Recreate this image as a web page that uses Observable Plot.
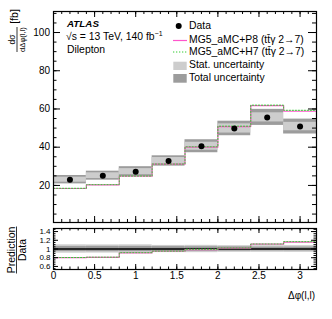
<!DOCTYPE html>
<html><head><meta charset="utf-8">
<script src="https://cdn.jsdelivr.net/npm/d3@7"></script>
<script src="https://cdn.jsdelivr.net/npm/@observablehq/plot@0.6"></script>
<style>body{margin:0;background:#fff} svg{display:block}</style>
</head><body><div id="chart"></div>
<script>
// ---- data ----
const binLow  = [0.0, 0.4, 0.8, 1.2, 1.6, 2.0, 2.4, 2.8];
const binHigh = [0.4, 0.8, 1.2, 1.6, 2.0, 2.4, 2.8, 3.2];
const dataXsec = [23.0, 25.1, 27.2, 32.8, 40.5, 49.8, 55.6, 50.8];
const statUnc  = [1.3, 1.5, 1.6, 1.8, 2.1, 2.4, 2.4, 2.2];
const totalUnc = [2.2, 2.35, 2.6, 2.7, 3.4, 3.8, 4.2, 3.9];
const predP8 = [18.4, 20.3, 24.8, 31.1, 40.0, 50.8, 61.7, 58.8];
const predH7 = [18.5, 20.4, 24.9, 31.2, 40.2, 51.0, 62.0, 59.3];
const xTickValues = [0, 0.5, 1, 1.5, 2, 2.5, 3];
const xTickLabels = ["0", "0.5", "1", "1.5", "2", "2.5", "3"];
const yTickValues = [20, 40, 60, 80, 100];
const yTickLabels = ["20", "40", "60", "80", "100"];
const rTickValues = [0.6, 0.8, 1.0, 1.2, 1.4];
const rTickLabels = ["0.6", "0.8", "1", "1.2", "1.4"];
const legendLabels = ["Data", "MG5_aMC+P8 (tt\u0304\u03b3 2\u21927)", "MG5_aMC+H7 (tt\u0304\u03b3 2\u21927)", "Stat. uncertainty", "Total uncertainty"];

const bins = binLow.map((lo, i) => ({lo, hi: binHigh[i], v: dataXsec[i], stat: statUnc[i], tot: totalUnc[i], p8: predP8[i], h7: predH7[i]}));
const steps = key => bins.flatMap(b => [{x: b.lo, y: b[key]}, {x: b.hi, y: b[key]}]);
const ratioSteps = key => bins.flatMap(b => [{x: b.lo, y: b[key] / b.v}, {x: b.hi, y: b[key] / b.v}]);

const F = "'Liberation Sans', Arial, Helvetica, sans-serif";
const DARK = "#9c9c9c", LIGHT = "#cdcdcd", MAG = "#ff55cc", GRN = "#33cc33";
const DASH = "1.3,1.7";
const W = 332, ML = 53, MR = 16, PW = W - ML - MR;
const range = (a, b, s) => d3.range(Math.round(a / s), Math.round(b / s) + 1).map(k => +(k * s).toFixed(4));

function ticks(xMaj, xMin, yMaj, yMin, ph, L) {
  const o = {stroke: "black", strokeWidth: 1};
  return [
    Plot.tickY(yMaj, {...o, y: d => d, insetRight: PW - L.yl}),
    Plot.tickY(yMin, {...o, y: d => d, insetRight: PW - L.yl / 2}),
    Plot.tickY(yMaj, {...o, y: d => d, insetLeft: PW - L.yr}),
    Plot.tickY(yMin, {...o, y: d => d, insetLeft: PW - L.yr / 2}),
    Plot.tickX(xMaj, {...o, x: d => d, insetTop: ph - L.x}),
    Plot.tickX(xMin, {...o, x: d => d, insetTop: ph - L.x / 2}),
    Plot.tickX(xMaj, {...o, x: d => d, insetBottom: ph - L.x}),
    Plot.tickX(xMin, {...o, x: d => d, insetBottom: ph - L.x / 2})
  ];
}

// ---- main panel ----
const mainH = 224, mainMT = 11, mainMB = 2;
const main = Plot.plot({
  width: W, height: mainH, marginLeft: ML, marginRight: MR, marginTop: mainMT, marginBottom: mainMB,
  style: {fontFamily: F, background: "white", color: "black"},
  x: {domain: [0, 3.2], axis: null, label: null},
  y: {domain: [0.6, 111], label: null},
  marks: [
    Plot.rect(bins, {x1: "lo", x2: "hi", y1: d => d.v - d.tot, y2: d => d.v + d.tot, fill: DARK}),
    Plot.rect(bins, {x1: "lo", x2: "hi", y1: d => d.v - d.stat, y2: d => d.v + d.stat, fill: LIGHT}),
    Plot.line(steps("p8"), {x: "x", y: "y", stroke: MAG, strokeWidth: 1.2}),
    Plot.line(steps("h7"), {x: "x", y: "y", stroke: GRN, strokeWidth: 1, strokeDasharray: DASH}),
    Plot.dot(bins, {x: d => (d.lo + d.hi) / 2, y: "v", r: 3, fill: "black", stroke: "none"}),
    ...ticks(range(0, 3, 0.5), range(0, 3.2, 0.1), yTickValues, range(5, 110, 5), mainH - mainMT - mainMB, {yl: 7, yr: 8, x: 6}),
    Plot.axisY(yTickValues, {anchor: "left", tickSize: 0, tickPadding: 3.5, fontSize: 10, fontFamily: F, tickFormat: d => yTickLabels[yTickValues.indexOf(d)], label: null}),
    Plot.frame({stroke: "black", strokeWidth: 1.2})
  ]
});

// ---- ratio panel ----
const rH = 95, rMT = 4, rMB = 50;
const ratio = Plot.plot({
  width: W, height: rH, marginLeft: ML, marginRight: MR, marginTop: rMT, marginBottom: rMB,
  style: {fontFamily: F, background: "white", color: "black"},
  x: {domain: [0, 3.2], label: null},
  y: {domain: [0.53, 1.47], label: null},
  marks: [
    Plot.rect(bins, {x1: "lo", x2: "hi", y1: d => 1 - d.tot / d.v, y2: d => 1 + d.tot / d.v, fill: LIGHT}),
    Plot.rect(bins, {x1: "lo", x2: "hi", y1: d => 1 - d.stat / d.v, y2: d => 1 + d.stat / d.v, fill: DARK}),
    Plot.ruleY([1], {stroke: "black", strokeWidth: 1.4}),
    Plot.line(ratioSteps("p8"), {x: "x", y: "y", stroke: MAG, strokeWidth: 1.2}),
    Plot.line(ratioSteps("h7"), {x: "x", y: "y", stroke: GRN, strokeWidth: 1, strokeDasharray: DASH}),
    ...ticks(range(0, 3, 0.5), range(0, 3.2, 0.1), rTickValues, range(0.55, 1.45, 0.05), rH - rMT - rMB, {yl: 5, yr: 5, x: 5}),
    Plot.axisY(rTickValues, {anchor: "left", tickSize: 0, tickPadding: 3, fontSize: 8, fontFamily: F, tickFormat: d => rTickLabels[rTickValues.indexOf(d)], label: null}),
    Plot.axisX(xTickValues, {anchor: "bottom", tickSize: 0, tickPadding: 2.5, fontSize: 10, fontFamily: F, tickFormat: d => xTickLabels[xTickValues.indexOf(d)], label: null}),
    Plot.frame({stroke: "black", strokeWidth: 1.2})
  ]
});

const root = document.getElementById("chart");
root.appendChild(main);
root.appendChild(ratio);

// ---- annotations ----
const sm = d3.select(main);
function text(sel, x, y, s, size, extra = {}) {
  const t = sel.append("text").attr("x", x).attr("y", y).attr("font-family", F).attr("font-size", size)
    .attr("fill", "black").attr("text-anchor", "start").text(s);
  for (const k in extra) t.attr(k, extra[k]);
  return t;
}
text(sm, 67, 27.3, "ATLAS", 9.8, {"font-weight": "bold", "font-style": "italic"});
const lumi = text(sm, 66, 39.5, "\u221as = 13 TeV, 140 fb", 10.4);
lumi.append("tspan").attr("dy", -4).attr("font-size", 7).text("\u22121");
text(sm, 67, 53.3, "Dilepton", 10.4);

// legend
const lx = 189;
sm.append("circle").attr("cx", 178.7).attr("cy", 26).attr("r", 3).attr("fill", "black");
text(sm, lx, 29.3, legendLabels[0], 10.4);
sm.append("line").attr("x1", 173).attr("x2", 187).attr("y1", 40.5).attr("y2", 40.5).attr("stroke", MAG).attr("stroke-width", 1.2);
text(sm, lx, 43.3, legendLabels[1], 10.4);
sm.append("line").attr("x1", 173).attr("x2", 187).attr("y1", 52).attr("y2", 52).attr("stroke", GRN).attr("stroke-width", 1).attr("stroke-dasharray", DASH);
text(sm, lx, 55.3, legendLabels[2], 10.4);
sm.append("rect").attr("x", 173.3).attr("y", 61.7).attr("width", 13.4).attr("height", 8.3).attr("fill", LIGHT);
text(sm, lx, 67.7, legendLabels[3], 10.4);
sm.append("rect").attr("x", 173.3).attr("y", 74).attr("width", 13.4).attr("height", 8.7).attr("fill", DARK);
text(sm, lx, 81, legendLabels[4], 10.4);

// main y title (rotated fraction)
const gy = sm.append("g").attr("transform", "rotate(-90)");
text(gy, -16.5, 17.5, "[fb]", 10.5, {"text-anchor": "middle"});
text(gy, -39.5, 15.2, "d\u03c3", 8.5, {"text-anchor": "middle"});
gy.append("line").attr("x1", -52).attr("x2", -27).attr("y1", 17).attr("y2", 17).attr("stroke", "black").attr("stroke-width", 0.8);
text(gy, -39.5, 24.5, "d\u0394\u03c6(l,l)", 7.6, {"text-anchor": "middle"});

// ratio annotations
const sr = d3.select(ratio);
const gr = sr.append("g").attr("transform", "rotate(-90)");
text(gr, -26, 14.6, "Prediction", 10.5, {"text-anchor": "middle"});
gr.append("line").attr("x1", -49.5).attr("x2", -2.5).attr("y1", 16.5).attr("y2", 16.5).attr("stroke", "black").attr("stroke-width", 0.8);
text(gr, -26, 25.8, "Data", 10.5, {"text-anchor": "middle"});
text(sr, 315, 75, "\u0394\u03c6(l,l)", 10, {"text-anchor": "end"});
</script></body></html>
